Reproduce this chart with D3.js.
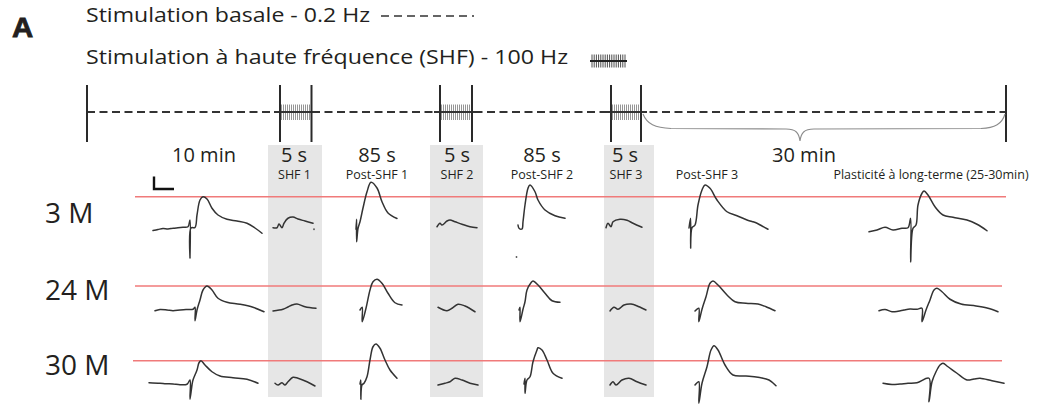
<!DOCTYPE html>
<html>
<head>
<meta charset="utf-8">
<script src="https://cdn.jsdelivr.net/npm/d3@7"></script>
<style>
  html, body { margin: 0; padding: 0; background: #fff; }
  svg { display: block; }
</style>
</head>
<body>
<script>
// ---------- Protocol / labels ----------
const ages = ["3 M", "24 M", "30 M"];
const phases = ["Contrôle", "SHF 1", "Post-SHF 1", "SHF 2", "Post-SHF 2", "SHF 3", "Post-SHF 3", "LTP"];
const phaseLabels = ["", "SHF 1", "Post-SHF 1", "SHF 2", "Post-SHF 2", "SHF 3", "Post-SHF 3", "Plasticité à long-terme (25-30min)"];
const durationLabels = ["10 min", "5 s", "85 s", "5 s", "85 s", "5 s", "30 min"];
const stimulationSegments = [false, true, false, true, false, true, false]; // true = SHF (100 Hz)
const legendLines = ["Stimulation basale - 0.2 Hz", "Stimulation à haute fréquence (SHF) - 100 Hz"];
const scaleBarMs = 10;    // horizontal bar of the calibration (ms)
const scaleBarMV = 0.5;   // vertical bar of the calibration (mV)

// ---------- Recorded fEPSP sweeps: time (ms), amplitude (mV from baseline) ----------
// 3 months
const s3M_ctrl = { t: [2.5, 5, 7.5, 10, 12.5, 15, 17.5, 20, 21, 21, 21.5, 23.5, 24.5, 26, 27.5, 29.5, 32, 35, 39.5, 44.5, 49.5, 53.5, 57],
                   v: [-0.1, -0.06, -0.02, -0.04, -0.01, 0.01, 0.03, 0.05, 0.32, -1.2, 0, 0.02, 0.52, 1.12, 1.25, 1.16, 0.79, 0.52, 0.35, 0.28, 0.19, 0, -0.21] };
const s3M_shf1 = { t: [1.5, 3.5, 4.5, 6, 7, 9, 11.5, 14, 17.5, 21.5],
                   v: [0.01, 0.01, 0.16, 0.01, 0.19, 0.39, 0.44, 0.36, 0.28, 0.19] };
const s3M_post1 = { t: [0.5, 0.8, 0.8, 1.5, 2.5, 4, 6, 8, 11, 13.5, 16.5, 21],
                    v: [-0.05, 0.35, -0.55, -0.02, 0.25, 0.8, 1.45, 1.83, 1.6, 1.05, 0.6, 0.38] };
const s3M_shf2 = { t: [1, 2.5, 3.5, 6, 7.5, 10, 13.5, 17.5, 21],
                   v: [0.05, 0.19, 0.12, 0.28, 0.32, 0.25, 0.15, 0.05, 0.01] };
const s3M_post2 = { t: [1.5, 2, 3.5, 4, 5, 6.5, 7.5, 10, 11.5, 15, 20, 25],
                    v: [0.12, -0.01, -0.04, 0.25, 0.92, 1.59, 1.72, 1.45, 1.12, 0.72, 0.49, 0.39] };
const s3M_shf3 = { t: [1.5, 2.5, 4, 5, 8.5, 12, 15, 19.5],
                   v: [0.01, 0.19, 0.05, 0.25, 0.35, 0.31, 0.19, 0.03] };
const s3M_post3 = { t: [0.5, 1.3, 1.3, 2, 3.5, 5, 7, 8.5, 11, 14.5, 19.5, 24.5, 29.5, 32, 34.5, 37, 40],
                    v: [0, 0.39, -0.81, 0.01, 0.12, 0.92, 1.52, 1.72, 1.59, 1.12, 0.65, 0.49, 0.32, 0.26, 0.19, 0.08, -0.05] };
const s3M_ltp = { t: [0.5, 4.5, 8.5, 12.5, 17, 20, 21.3, 21.3, 22.5, 24, 25, 27, 28, 30, 33.5, 37.5, 42.5, 49.5, 54.5, 59.5],
                  v: [-0.15, -0.08, 0.03, -0.08, -0.01, 0.01, 0.39, -1.36, -0.01, 0.12, 0.92, 1.39, 1.48, 1.32, 0.85, 0.52, 0.43, 0.32, 0.15, -0.11] };

// 24 months
const s24M_ctrl = { t: [3.5, 6, 9.5, 12.5, 16, 19, 22.5, 23.5, 23.5, 24.5, 26, 27.5, 29.5, 32, 35, 39.5, 46, 52.5, 58],
                    v: [-0.03, 0.02, 0, -0.03, 0, 0.02, 0.03, 0.11, -0.43, 0, 0.4, 0.8, 0.96, 0.8, 0.47, 0.31, 0.23, 0.11, -0.07] };
const s24M_shf1 = { t: [1.5, 6.5, 9, 11, 13.5, 17.5, 23],
                    v: [-0.04, 0.03, 0.12, 0.2, 0.24, 0.13, 0.07] };
const s24M_post1 = { t: [2.5, 3.6, 3.6, 5.5, 7.5, 9, 11, 13.5, 16.5, 20, 23.5],
                     v: [0, 0.11, -0.47, 0.07, 0.8, 1.13, 1.23, 1.07, 0.67, 0.29, 0.2] };
const s24M_shf2 = { t: [1.5, 6, 8.5, 11.5, 15, 20],
                    v: [0.11, -0.03, 0.07, 0.23, 0.16, -0.07] };
const s24M_post2 = { t: [2, 2.5, 2.5, 4, 5, 6, 8, 9, 11.5, 15, 18.5, 22.5],
                     v: [0, 0.11, -0.47, 0.03, 0.33, 0.8, 1.09, 1.16, 1, 0.67, 0.37, 0.31] };
const s24M_shf3 = { t: [3.5, 5.5, 7.5, 10.5, 14, 18, 21.5],
                    v: [-0.04, 0.11, 0.03, 0.2, 0.24, 0.13, 0] };
const s24M_post3 = { t: [3.5, 5.4, 5.4, 7, 9, 11, 12.5, 15, 19.5, 23.5, 29, 35, 39, 43.5],
                     v: [-0.04, 0.07, -0.47, 0.03, 0.53, 1.07, 1.16, 1, 0.6, 0.33, 0.27, 0.24, 0.13, -0.03] };
const s24M_ltp = { t: [5.5, 8.5, 12, 15, 18, 21, 24.5, 27, 27, 29, 31, 33, 34.5, 37, 41, 46.5, 54, 60, 65],
                   v: [-0.03, 0.02, -0.07, -0.05, 0, 0.04, 0.03, 0.07, -0.47, 0, 0.4, 0.8, 0.87, 0.73, 0.43, 0.24, 0.16, 0.07, -0.07] };

// 30 months
const s30M_ctrl = { t: [0.5, 6, 9, 12.5, 16, 19.5, 21, 21, 22, 22.5, 24.5, 25.5, 26.5, 28.5, 32, 36, 42.5, 49.5, 55],
                    v: [0.05, 0.03, 0.01, 0, -0.03, -0.01, 0.16, -0.61, -0.04, 0.16, 0.56, 0.85, 0.93, 0.76, 0.49, 0.32, 0.25, 0.19, 0.03] };
const s30M_shf1 = { t: [2.5, 4, 6, 7.5, 9, 11.5, 14, 18.5, 22.5],
                    v: [0.03, -0.04, 0.05, -0.04, 0.09, 0.27, 0.23, 0.09, -0.08] };
const s30M_post1 = { t: [2.5, 2.9, 2.9, 3.5, 4.5, 6, 7.5, 9, 10.5, 12.5, 15, 17.5, 21],
                     v: [0, 0.16, -0.61, -0.04, 0.03, 0.29, 0.96, 1.49, 1.6, 1.43, 0.96, 0.56, 0.23] };
const s30M_shf2 = { t: [1.5, 5, 7.5, 10, 13.5, 17.5, 21.5],
                    v: [-0.04, 0.03, 0.09, 0.23, 0.16, 0.03, -0.04] };
const s30M_post2 = { t: [4.5, 5, 5, 6, 7.5, 9, 11, 11.5, 13.5, 16, 19, 23.5],
                     v: [0, 0.23, -0.37, 0.16, 0.29, 0.89, 1.36, 1.45, 1.36, 0.96, 0.43, 0.23] };
const s30M_shf3 = { t: [3.5, 5, 6.5, 9.5, 13, 17, 21.5],
                    v: [-0.04, 0.09, -0.04, 0.16, 0.23, 0.09, -0.04] };
const s30M_post3 = { t: [3.5, 5.4, 5.4, 7, 9.5, 11.5, 13, 15, 18.5, 22.5, 29, 35, 40.5, 44],
                     v: [-0.04, 0.09, -0.77, 0.03, 0.69, 1.36, 1.53, 1.36, 0.76, 0.36, 0.32, 0.27, 0.16, -0.07] };
const s30M_ltp = { t: [7.5, 12, 16, 20, 24.5, 30.5, 30.5, 32, 34, 36, 37.5, 40, 44.5, 49.5, 53, 56, 62, 68],
                   v: [0.03, -0.02, 0, 0.03, 0.05, 0.23, -0.71, 0.09, 0.49, 0.76, 0.83, 0.69, 0.43, 0.16, 0.2, 0.23, 0.13, 0.03] };

const sweeps3M  = [s3M_ctrl,  s3M_shf1,  s3M_post1,  s3M_shf2,  s3M_post2,  s3M_shf3,  s3M_post3,  s3M_ltp];
const sweeps24M = [s24M_ctrl, s24M_shf1, s24M_post1, s24M_shf2, s24M_post2, s24M_shf3, s24M_post3, s24M_ltp];
const sweeps30M = [s30M_ctrl, s30M_shf1, s30M_post1, s30M_shf2, s30M_post2, s30M_shf3, s30M_post3, s30M_ltp];

// isolated specks left on the traces: [age, phase, t, v]
const specks = [["3 M", "SHF 1", 22, -0.05], ["3 M", "Post-SHF 2", 0.75, -1.16]];

// ---------- Layout ----------
const W = 1044, H = 404;
const FONT = "'Open Sans', 'Noto Sans', sans-serif";
const INK = "#231f20";
const layout = {
  sweepX: [148, 270, 355, 435, 515, 603, 688, 868],
  rowBase: [228, 310, 384],
  rowLabelDy: [-5, -10, -9],
  boundaryX: [87, 280, 311.5, 440, 472, 611, 641, 1006],
  durationX: [204, 294, 377, 457, 542, 625, 804],
  phaseLabelX: [0, 294.5, 377, 457, 542, 626, 707, 931],
  shade: [[268, 322], [430, 483], [604, 654]],
  redX: [[135, 1006], [135, 1002], [133, 1002]],
  timelineY: 112
};

const svg = d3.select("body").append("svg").attr("width", W).attr("height", H);
svg.append("rect").attr("width", W).attr("height", H).attr("fill", "#fff");

// scales
const colX = d3.scaleOrdinal(phases, layout.sweepX);
const rowY = d3.scaleOrdinal(ages, layout.rowBase);
const tScale = d3.scaleLinear().domain([0, 1]).range([0, 2]);     // 2 px per ms
const vScale = d3.scaleLinear().domain([0, 1]).range([0, -25]);   // 25 px per mV
const bX = d3.scaleLinear().domain(d3.range(layout.boundaryX.length)).range(layout.boundaryX);

// ---------- Panel letter and legend ----------
svg.append("text").attr("x", 12).attr("y", 37)
  .attr("font-family", "'Liberation Sans', Arial, sans-serif").attr("font-weight", "bold")
  .attr("font-size", 28).attr("fill", INK).attr("stroke", INK).attr("stroke-width", 0.8)
  .attr("transform", "translate(12,0) scale(1.05,1) translate(-12,0)")
  .text("A");

const legendW = [284, 482];
legendLines.forEach((s, i) => {
  svg.append("text").attr("x", 86).attr("y", i === 0 ? 22 : 64)
    .attr("font-family", FONT).attr("font-size", 20.5).attr("fill", INK)
    .attr("textLength", legendW[i]).attr("lengthAdjust", "spacingAndGlyphs")
    .text(s);
});
// basal stimulation symbol
svg.append("line").attr("x1", 381).attr("x2", 474).attr("y1", 16).attr("y2", 16)
  .attr("stroke", "#333").attr("stroke-width", 1.6).attr("stroke-dasharray", "8,5");
// high-frequency burst symbol
const legendComb = svg.append("g");
d3.range(592, 626, 2.2).forEach(x => {
  legendComb.append("line").attr("x1", x).attr("x2", x).attr("y1", 54.5).attr("y2", 67.5)
    .attr("stroke", "#3a3a3a").attr("stroke-width", 0.9);
});
legendComb.append("line").attr("x1", 590).attr("x2", 627).attr("y1", 61).attr("y2", 61)
  .attr("stroke", "#222").attr("stroke-width", 1.8);

// ---------- Timeline ----------
const ty = layout.timelineY;
svg.append("line").attr("x1", bX(0)).attr("x2", bX(7)).attr("y1", ty).attr("y2", ty)
  .attr("stroke", "#333").attr("stroke-width", 2).attr("stroke-dasharray", "8,4.5");

stimulationSegments.forEach((isShf, i) => {
  if (!isShf) return;
  const a = bX(i), b = bX(i + 1);
  const g = svg.append("g");
  d3.range(a + 1.5, b - 0.5, 2).forEach(x => {
    g.append("line").attr("x1", x).attr("x2", x).attr("y1", ty - 7.5).attr("y2", ty + 8)
      .attr("stroke", "#8a8a8a").attr("stroke-width", 0.9);
  });
  g.append("line").attr("x1", a - 6).attr("x2", b + 6).attr("y1", ty).attr("y2", ty)
    .attr("stroke", "#333").attr("stroke-width", 2);
});

layout.boundaryX.forEach((_, i) => {
  svg.append("line").attr("x1", bX(i)).attr("x2", bX(i)).attr("y1", 85).attr("y2", 142)
    .attr("stroke", "#2a2a2a").attr("stroke-width", 2);
});

// brace over the 30 min follow-up
const b0 = bX(6) + 2, b1 = bX(7) - 1, mid = 800;
svg.append("path")
  .attr("d", `M${b0},${ty + 2} C${b0 + 4},${ty + 12} ${b0 + 12},${ty + 16} ${b0 + 28},${ty + 16.5}
              L${mid - 14},${ty + 17} C${mid - 4},${ty + 17} ${mid - 1},${ty + 21} ${mid},${ty + 29}
              C${mid + 1},${ty + 21} ${mid + 4},${ty + 17} ${mid + 14},${ty + 17}
              L${b1 - 24},${ty + 16.5} C${b1 - 10},${ty + 16} ${b1 - 3},${ty + 12} ${b1},${ty + 2}`)
  .attr("fill", "none").attr("stroke", "#8c8c8c").attr("stroke-width", 1.1);

// ---------- Shaded SHF windows ----------
layout.shade.forEach(([a, b]) => {
  svg.append("rect").attr("x", a).attr("y", 145).attr("width", b - a).attr("height", 252)
    .attr("fill", "#e6e6e6");
});

// ---------- Period labels ----------
durationLabels.forEach((s, i) => {
  svg.append("text").attr("x", layout.durationX[i]).attr("y", 162)
    .attr("text-anchor", "middle").attr("font-family", FONT).attr("font-size", 20)
    .attr("fill", INK).text(s);
});
phaseLabels.forEach((s, i) => {
  if (!s) return;
  svg.append("text").attr("x", layout.phaseLabelX[i]).attr("y", 179)
    .attr("text-anchor", "middle").attr("font-family", FONT).attr("font-size", 12.5)
    .attr("fill", INK).text(s);
});

// ---------- Calibration bar ----------
const cbX = 154, cbY = 189;
svg.append("path")
  .attr("d", `M${cbX},${cbY + vScale(scaleBarMV)} V${cbY} H${cbX + tScale(scaleBarMs)}`)
  .attr("fill", "none").attr("stroke", "#111").attr("stroke-width", 2.4);

// ---------- Reference lines (control peak) and sweeps ----------
const rowSweeps = [sweeps3M, sweeps24M, sweeps30M];
const line = d3.line().curve(d3.curveCatmullRom.alpha(0.5));

ages.forEach((age, r) => {
  const ctrl = rowSweeps[r][0];
  const peak = d3.max(ctrl.v);
  const yRef = rowY(age) + vScale(peak);
  svg.append("line").attr("x1", layout.redX[r][0]).attr("x2", layout.redX[r][1])
    .attr("y1", yRef).attr("y2", yRef)
    .attr("stroke", "#f07a7a").attr("stroke-width", 1.6);

  svg.append("text").attr("x", 45).attr("y", rowY(age) + layout.rowLabelDy[r])
    .attr("font-family", FONT).attr("font-size", 28).attr("fill", INK).text(age);

  rowSweeps[r].forEach((sw, p) => {
    const pts = sw.t.map((t, k) => [colX(phases[p]) + tScale(t), rowY(age) + vScale(sw.v[k])]);
    svg.append("path").attr("d", line(pts))
      .attr("fill", "none").attr("stroke", "#333").attr("stroke-width", 1.5)
      .attr("stroke-linejoin", "round").attr("stroke-linecap", "round");
  });
});

specks.forEach(([age, phase, t, v]) => {
  svg.append("circle").attr("cx", colX(phase) + tScale(t)).attr("cy", rowY(age) + vScale(v))
    .attr("r", 0.9).attr("fill", "#555");
});
</script>
</body>
</html>
